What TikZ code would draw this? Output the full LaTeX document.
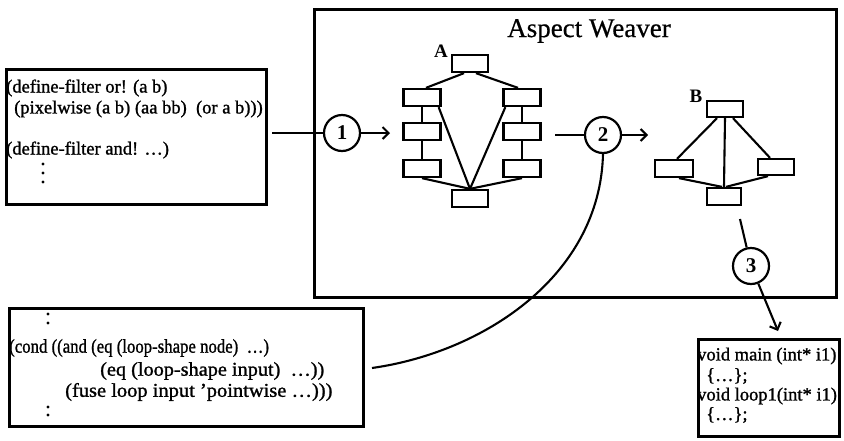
\documentclass[tikz,border=0pt]{standalone}
\usepackage{fontspec}
\setmainfont{Liberation Serif}
\newfontfamily\codefont[BoldFont={Liberation Serif}, BoldFeatures={FakeBold=1.2}]{Liberation Serif}
\newfontfamily\titlefont[BoldFont={Liberation Serif}, BoldFeatures={FakeBold=0.6}]{Liberation Serif}
\usetikzlibrary{arrows.meta}
\begin{document}
\begin{tikzpicture}[x=1pt,y=-1pt,
  gbox/.style={draw, line width=2.3pt, minimum width=37pt, minimum height=17pt, inner sep=0pt},
  code/.style={anchor=west, inner sep=0pt, font=\codefont\bfseries\fontsize{18.5}{20}\selectfont},
  codeb/.style={anchor=west, inner sep=0pt, font=\codefont\bfseries\fontsize{19.5}{20}\selectfont},
  frame/.style={draw, line width=2.8pt, anchor=north west, inner sep=0pt},
  num/.style={draw, circle, line width=2.2pt, minimum size=36pt, inner sep=0pt, font=\fontsize{21}{21}\selectfont\bfseries},
  conn/.style={line width=2.1pt},
  arr/.style={line width=2.1pt, -{Straight Barb[length=6pt,width=12pt]}},
  lbl/.style={font=\fontsize{19}{19}\selectfont\bfseries, inner sep=0pt},
  dot/.style={fill, circle, inner sep=0pt, minimum size=3.4pt}
]
\useasboundingbox (0,0) rectangle (844,440);

% frames
\node[frame, minimum width=260pt, minimum height=135pt] (code1) at (5,68) {};
\node[frame, minimum width=522pt, minimum height=288pt] (weaver) at (313,8) {};
\node[frame, minimum width=354pt, minimum height=118pt] (code2) at (8,307) {};
\node[frame, minimum width=141pt, minimum height=97pt] (code3) at (697,338) {};

% title
\node[inner sep=0pt, font=\titlefont\bfseries\fontsize{27}{27}\selectfont] (title) at (589,31) {Aspect Weaver};

% code box 1
\node[code] (a1) at (6,88) {(define-filter or! (a b)};
\node[code] (a2) at (14,109) {(pixelwise (a b) (aa bb)\ \ (or a b)))};
\node[code] (a3) at (6,150) {(define-filter and! …)};
\node[dot] (ad1) at (43,164) {};
\node[dot] (ad2) at (43,173) {};
\node[dot] (ad3) at (43,182) {};

% code box 2
\node[dot] (bd1) at (48,314) {};
\node[dot] (bd2) at (48,323) {};
\node[codeb] (b1) at (9,348) {\scalebox{0.86}[1]{(cond ((and (eq (loop-shape node)\ \ …)}};
\node[codeb] (b2) at (100,371) {\scalebox{1.04}[1]{(eq (loop-shape input)\ \ …))}};
\node[codeb] (b3) at (65,392) {\scalebox{1.05}[1]{(fuse loop input ’pointwise …)))}};
\node[dot] (bd3) at (48,407) {};
\node[dot] (bd4) at (48,415) {};

% code box 3
\node[code] (c31) at (697,356) {void main (int* i1)};
\node[code] (c32) at (706,376) {\{…\};};
\node[code] (c33) at (697,396) {void loop1(int* i1)};
\node[code] (c34) at (706,415) {\{…\};};

% graph A
\node[gbox, minimum width=36pt] (At) at (470,63.5) {};
\node[gbox] (Al1) at (422,97.5) {};
\node[gbox] (Al2) at (422,131.5) {};
\node[gbox] (Al3) at (422,168.5) {};
\node[gbox] (Ar1) at (522,97.5) {};
\node[gbox] (Ar2) at (522,131.5) {};
\node[gbox] (Ar3) at (522,168.5) {};
\node[gbox, minimum width=36pt] (Ab) at (470,198.5) {};
\node[lbl] (Alab) at (441,51) {A};
\draw[conn] ([xshift=-6pt]At.south) -- ([xshift=4pt]Al1.north);
\draw[conn] ([xshift=6pt]At.south) -- ([xshift=-4pt]Ar1.north);
\draw[conn] (Al1) -- (Al2);
\draw[conn] (Al2) -- (Al3);
\draw[conn] (Ar1) -- (Ar2);
\draw[conn] (Ar2) -- (Ar3);
\draw[conn] ([xshift=-3pt]Al1.south east) -- (Ab.north);
\draw[conn] ([xshift=3pt]Ar1.south west) -- (Ab.north);
\draw[conn] (Al3.south) -- (Ab.north);
\draw[conn] (Ar3.south) -- (Ab.north);

% graph B
\node[gbox, minimum width=36pt, minimum height=16pt] (Bt) at (725,109) {};
\node[gbox, minimum width=38pt] (Bl) at (674,168.5) {};
\node[gbox, minimum width=36pt, minimum height=16pt] (Br) at (776,167) {};
\node[gbox, minimum width=34pt] (Bb) at (724,196.5) {};
\node[lbl] (Blab) at (696,96) {B};
\draw[conn] ([xshift=-8pt]Bt.south) -- ([xshift=3pt]Bl.north);
\draw[conn] (Bt.south) -- (Bb.north);
\draw[conn] ([xshift=8pt]Bt.south) -- ([xshift=-6pt]Br.north);
\draw[conn] ([xshift=5pt]Bl.south) -- ([xshift=-2pt]Bb.north);
\draw[conn] ([xshift=-8pt]Br.south) -- ([xshift=2pt]Bb.north);

% numbered steps
\node[num] (n1) at (342,133) {1};
\node[num] (n2) at (603,135) {2};
\node[num] (n3) at (751,266) {3};

\coordinate (s1) at (272,133);
\coordinate (e1) at (390,133);
\draw[conn] (s1) -- (n1);
\draw[arr] (n1) -- (e1);

\coordinate (s2) at (555,135);
\coordinate (e2) at (648,135);
\draw[conn] (s2) -- (n2);
\draw[arr] (n2) -- (e2);

\coordinate (cend) at (372,368);
\draw[conn] (n2.south) .. controls (600,275) and (485,352) .. (cend);

\coordinate (s3) at (740,219);
\coordinate (e3) at (778,331);
\draw[conn] (s3) -- (n3);
\draw[arr] (n3) -- (e3);
\end{tikzpicture}
\end{document}
